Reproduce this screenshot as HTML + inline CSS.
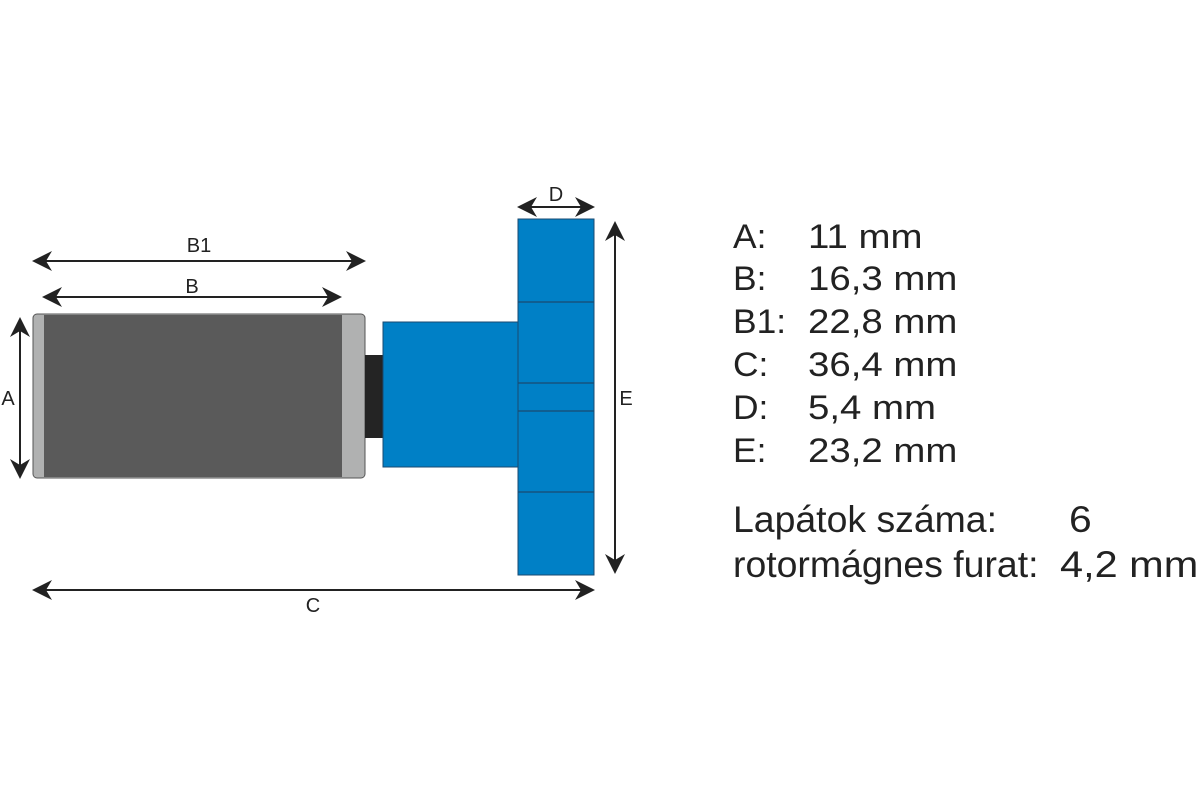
<!DOCTYPE html>
<html><head><style>
body{margin:0;background:#fff;width:1200px;height:800px;overflow:hidden}
</style></head><body>
<svg width="1200" height="800" xmlns="http://www.w3.org/2000/svg" font-family="Liberation Sans, sans-serif">
<defs>
<marker id="ah" viewBox="0 0 10 10" refX="9" refY="5" markerWidth="20" markerHeight="20" markerUnits="userSpaceOnUse" orient="auto-start-reverse">
<path d="M0,0 L10,5 L0,10 L3,5 Z" fill="#222"/></marker>
</defs>
<rect x="33" y="314" width="332" height="164" rx="4" fill="#b0b1b1" stroke="#555" stroke-width="1"/>
<rect x="44" y="315" width="298" height="162" fill="#5a5a5a"/>
<rect x="365" y="355" width="19" height="83" fill="#242424"/>
<rect x="383" y="322" width="136" height="145" fill="#0080c6" stroke="#1a4a70" stroke-width="1"/>
<rect x="518" y="219" width="76" height="356" fill="#0080c6" stroke="#1a4a70" stroke-width="1"/>
<g stroke="#1a4a70" stroke-width="1.2">
<line x1="518" y1="302" x2="594" y2="302"/><line x1="518" y1="383" x2="594" y2="383"/>
<line x1="518" y1="411" x2="594" y2="411"/><line x1="518" y1="492" x2="594" y2="492"/></g>
<g stroke="#222" stroke-width="2" marker-start="url(#ah)" marker-end="url(#ah)">
<line x1="34" y1="261" x2="364" y2="261"/>
<line x1="44" y1="297" x2="340" y2="297"/>
<line x1="20" y1="319" x2="20" y2="477"/>
<line x1="34" y1="590" x2="593" y2="590"/>
<line x1="519" y1="207" x2="593" y2="207"/>
<line x1="615" y1="223" x2="615" y2="572"/>
</g>
<g font-size="20" fill="#222" text-anchor="middle">
<text x="199" y="252">B1</text><text x="192" y="293">B</text>
<text x="8" y="405">A</text><text x="313" y="612">C</text>
<text x="556" y="201">D</text><text x="626" y="405">E</text>
</g>
<g font-size="34" fill="#222" transform="translate(733,0) scale(1.04,1) translate(-733,0)">
<text x="733" y="248">A:</text>
<text x="733" y="290">B:</text>
<text x="733" y="333">B1:</text>
<text x="733" y="376">C:</text>
<text x="733" y="419">D:</text>
<text x="733" y="462">E:</text>
</g>
<g font-size="34" fill="#222" transform="translate(808,0) scale(1.13,1) translate(-808,0)">
<text x="808" y="248">11 mm</text>
<text x="808" y="290">16,3 mm</text>
<text x="808" y="333">22,8 mm</text>
<text x="808" y="376">36,4 mm</text>
<text x="808" y="419">5,4 mm</text>
<text x="808" y="462">23,2 mm</text>
</g>
<g fill="#222" font-size="34">
<text transform="translate(733,532) scale(1.1,1.1)" x="0" y="0">Lapátok száma:</text>
<text transform="translate(733,577) scale(1.1,1.1)" x="0" y="0">rotormágnes furat:</text>
<text transform="translate(1069,532) scale(1.2,1.1)" x="0" y="0">6</text>
<text transform="translate(1060,577) scale(1.22,1.1)" x="0" y="0">4,2 mm</text>
</g>
</svg>
</body></html>
